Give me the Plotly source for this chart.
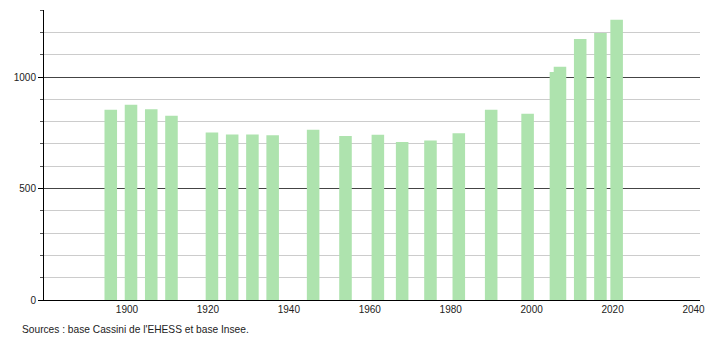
import plotly.graph_objects as go

years = [1896, 1901, 1906, 1911, 1921, 1926, 1931, 1936, 1946, 1954, 1962,
         1968, 1975, 1982, 1990, 1999, 2006, 2007, 2012, 2017, 2021]
population = [853, 876, 855, 826, 751, 742, 742, 739, 763, 736, 741,
              709, 715, 748, 853, 835, 1022, 1046, 1171, 1197, 1257]
x_ticks = [1900, 1920, 1940, 1960, 1980, 2000, 2020, 2040]
y_ticks = [0, 500, 1000]
source_text = "Sources : base Cassini de l'EHESS et base Insee."

fig = go.Figure()
fig.add_trace(go.Bar(
    x=years, y=population, width=3.1,
    marker=dict(color="rgb(174,227,174)", line=dict(width=0)),
    hoverinfo="x+y",
))

fig.update_layout(
    width=710, height=340,
    margin=dict(l=44, r=10, t=10, b=40, autoexpand=False),
    plot_bgcolor="white", paper_bgcolor="white",
    showlegend=False, barmode="overlay",
    font=dict(family="Liberation Sans, Arial, sans-serif", size=10, color="#222"),
    xaxis=dict(
        range=[1879.5, 2041.6], tickvals=x_ticks, ticks="",
        showgrid=False, zeroline=False, automargin=False,
        showline=True, linecolor="#000", linewidth=1,
        ticklen=0, tickfont=dict(size=10, color="#222"),
    ),
    yaxis=dict(
        range=[0, 1300.5], tickvals=y_ticks, ticks="outside", ticklen=5,
        tickcolor="#000", showgrid=True, gridcolor="#444", gridwidth=1,
        zeroline=False, showline=True, linecolor="#000", linewidth=1,
        automargin=False, tickfont=dict(size=10, color="#222"),
        minor=dict(dtick=100, tick0=0, showgrid=True, gridcolor="#cccccc",
                   ticks="outside", ticklen=3, tickcolor="#555"),
    ),
    annotations=[dict(
        text=source_text, xref="paper", yref="paper",
        x=-0.0366, y=-0.1034, xanchor="left", yanchor="middle",
        showarrow=False, font=dict(size=10.2, color="#222"),
    )],
)

fig.write_html("out.html")
